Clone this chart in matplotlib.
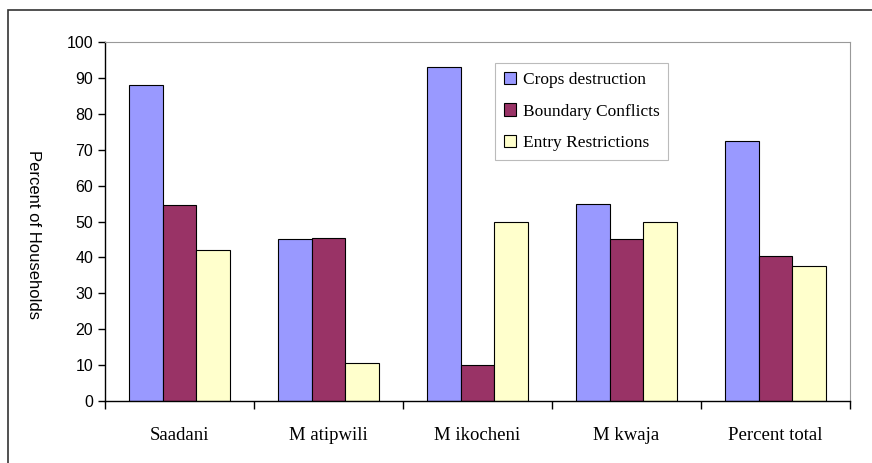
import matplotlib
matplotlib.use("Agg")
import matplotlib.pyplot as plt
import numpy as np
from matplotlib.patches import Rectangle

villages = ["Saadani", "M atipwili", "M ikocheni", "M kwaja", "Percent total"]
crops = [88, 45, 93, 55, 72.5]
boundary = [54.5, 45.5, 10, 45, 40.5]
entry = [42, 10.5, 50, 50, 37.5]
yticks = list(range(0, 101, 10))

fig = plt.figure(figsize=(8.72, 4.63), dpi=100)
ax = fig.add_axes([105 / 872, 62 / 463, 745 / 872, 359 / 463])

x = np.arange(len(villages))
w = 0.226
ax.bar(x - w, crops, w, color="#9999FF", edgecolor="black", linewidth=0.8, label="Crops destruction")
ax.bar(x, boundary, w, color="#993366", edgecolor="black", linewidth=0.8, label="Boundary Conflicts")
ax.bar(x + w, entry, w, color="#FFFFCC", edgecolor="black", linewidth=0.8, label="Entry Restrictions")

ax.set_xlim(-0.5, len(villages) - 0.5)
ax.set_ylim(0, 100)
ax.set_yticks(yticks)
ax.set_yticklabels([str(t) for t in yticks], family="Liberation Sans", fontsize=11.5)
ax.set_xticks(x)
ax.set_xticklabels(villages, family="Liberation Serif", fontsize=13.5)
ax.tick_params(axis="x", length=0, pad=19)
ax.set_xticks(np.arange(-0.5, len(villages)), minor=True)
ax.tick_params(axis="x", which="minor", length=6, width=1, direction="out")
ax.tick_params(axis="y", length=5, width=1, direction="out")

for s in ["top", "right"]:
    ax.spines[s].set_color("#999999")
    ax.spines[s].set_linewidth(0.8)
for s in ["left", "bottom"]:
    ax.spines[s].set_color("black")
    ax.spines[s].set_linewidth(1.0)

leg = ax.legend(loc="upper left", bbox_to_anchor=((495 - 105) / 745, (401 - 63) / 359),
                borderaxespad=0, prop={"family": "Liberation Serif", "size": 12.5},
                fancybox=False, edgecolor="#aaaaaa", handlelength=0.7, handleheight=0.7,
                labelspacing=0.9, handletextpad=0.4, borderpad=0.5)
leg.get_frame().set_linewidth(0.8)

fig.text(33 / 872, 1 - 235 / 463, "Percent of Households", rotation=270,
         ha="center", va="center", family="Liberation Sans", fontsize=12)

fig.patches.append(Rectangle((8 / 872, -0.05), 1.1, 1 - 10 / 463 + 0.05,
                             transform=fig.transFigure, fill=False,
                             edgecolor="#333333", linewidth=1.2))

fig.savefig("out.png", dpi=100)
